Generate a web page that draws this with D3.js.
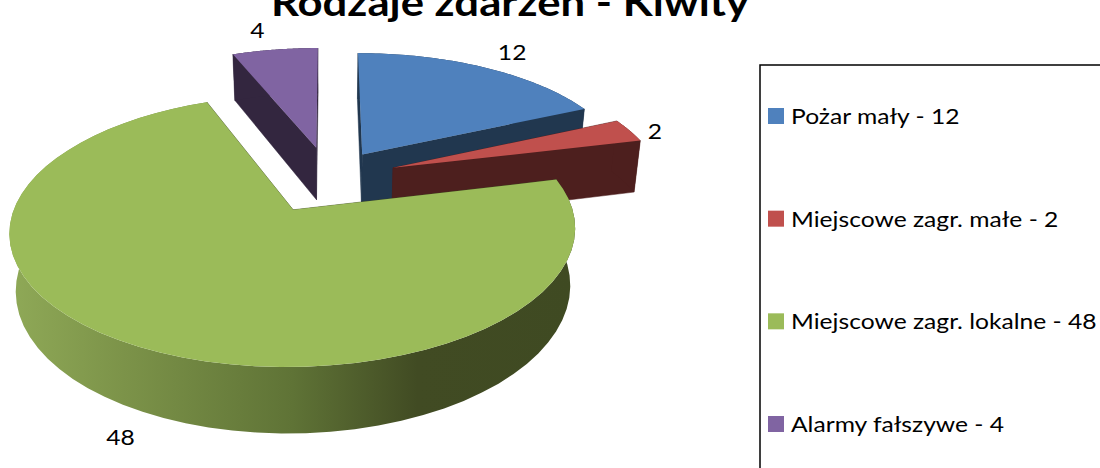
<!DOCTYPE html>
<html>
<head>
<meta charset="utf-8">
<script src="https://cdn.jsdelivr.net/npm/d3@7"></script>
<style>
  html, body { margin: 0; padding: 0; background: #fff; overflow: hidden; }
  svg { display: block; }
  text { font-family: Lato, "Open Sans", sans-serif; fill: #000; }
</style>
</head>
<body>
<svg id="chart" width="1100" height="468"></svg>
<script>
const titleText = "Rodzaje zdarzeń - Kiwity";
const categories = ["Pożar mały", "Miejscowe zagr. małe", "Miejscowe zagr. lokalne", "Alarmy fałszywe"];
const values = [12, 2, 48, 4];

const topColours = ["#4f81bd", "#c0504d", "#9bbb59", "#8064a2"];
const wallColours = ["#21374f", "#4d1f1e", "#3f4a22", "#33263f"];
const explosions = [0.235, 0.255, 0.28, 0.26];
const drawOrder = [3, 0, 1, 2];

// projection of the pie plane, far side shrinks a bit
const view = { cx: 329, cy: 178, rx: 269, ry: 123, persp: 0.15, depth: 54, squeeze: 0.02 };

// the reference picture is stretched sideways, text has to follow
const textStretch = 1.12;

const project = (x, y, z = 0) => {
    const w = 1 + view.persp * y;
    const shrink = 1 - view.squeeze * z;
    return [
        view.cx + view.rx * x / w * shrink,
        view.cy - view.ry * y / w + view.depth * z / w
    ];
};

const svg = d3.select("#chart");
const defs = svg.append("defs");

const rimGradient = defs.append("linearGradient")
    .attr("id", "green-rim")
    .attr("gradientUnits", "userSpaceOnUse")
    .attr("x1", 10).attr("x2", 576).attr("y1", 0).attr("y2", 0);
[[0, "#8fa957"], [0.2, "#7c9349"], [0.5, "#5f7336"], [0.72, "#414b23"], [1, "#3f4a22"]].forEach(([o, c]) => {
    rimGradient.append("stop").attr("offset", o).attr("stop-color", c);
});

const slices = d3.pie().sort(null).value(d => d)(values);
const line = d3.line();

const sliceGeometry = (s, i) => {
    const mid = (s.startAngle + s.endAngle) / 2;
    const ox = Math.sin(mid) * explosions[i];
    const oy = Math.cos(mid) * explosions[i];
    const arc = d3.range(0, 61).map(k => {
        const a = s.startAngle + (s.endAngle - s.startAngle) * k / 60;
        return [ox + Math.sin(a), oy + Math.cos(a)];
    });
    return { mid, ox, oy, arc };
};

const pieGroup = svg.append("g");

drawOrder.forEach(i => {
    const { ox, oy, arc } = sliceGeometry(slices[i], i);
    const g = pieGroup.append("g");
    const first = arc[0];
    const last = arc[arc.length - 1];

    [first, last].forEach(p => {
        const wall = [project(ox, oy), project(p[0], p[1]), project(p[0], p[1], 1), project(ox, oy, 1)];
        g.append("path")
            .attr("d", line(wall) + "Z")
            .attr("fill", wallColours[i])
            .attr("stroke", wallColours[i])
            .attr("stroke-width", 0.5);
    });

    const rim = arc.map(p => project(p[0], p[1])).concat(arc.slice().reverse().map(p => project(p[0], p[1], 1)));
    g.append("path")
        .attr("d", line(rim) + "Z")
        .attr("fill", i === 2 ? "url(#green-rim)" : wallColours[i]);

    const top = [project(ox, oy)].concat(arc.map(p => project(p[0], p[1])));
    g.append("path")
        .attr("d", line(top) + "Z")
        .attr("fill", topColours[i]);
});

// data labels, placed off the rim of each slice
const labelNudge = [[17, 0], [3, 12], [0, 82], [-14, -3]];
slices.forEach((s, i) => {
    const { mid, ox, oy } = sliceGeometry(s, i);
    const [lx, ly] = project(ox + Math.sin(mid) * 1.1, oy + Math.cos(mid) * 1.1);
    svg.append("text")
        .attr("transform", `translate(${lx + labelNudge[i][0]}, ${ly + labelNudge[i][1]}) scale(${textStretch}, 1)`)
        .attr("text-anchor", "middle")
        .attr("font-size", 22)
        .text(values[i]);
});

svg.append("text")
    .attr("transform", `translate(510, 16) scale(${textStretch}, 1)`)
    .attr("text-anchor", "middle")
    .attr("font-size", 39)
    .attr("font-weight", 700)
    .text(titleText);

// legend box runs off the right and bottom of the picture
svg.append("rect")
    .attr("x", 760)
    .attr("y", 65)
    .attr("width", 400)
    .attr("height", 460)
    .attr("fill", "none")
    .attr("stroke", "#000")
    .attr("stroke-width", 1.5);

const legendY = d3.scalePoint().domain(categories).range([116, 424]);

const legendItems = svg.selectAll(".legend-item")
    .data(categories)
    .join("g")
    .attr("class", "legend-item")
    .attr("transform", d => `translate(768, ${legendY(d)})`);

legendItems.append("rect")
    .attr("y", -8)
    .attr("width", 16)
    .attr("height", 16)
    .attr("fill", (_, i) => topColours[i]);

legendItems.append("text")
    .attr("transform", `translate(23, 8) scale(${textStretch}, 1)`)
    .attr("font-size", 22)
    .text((d, i) => `${d} - ${values[i]}`);
</script>
</body>
</html>
